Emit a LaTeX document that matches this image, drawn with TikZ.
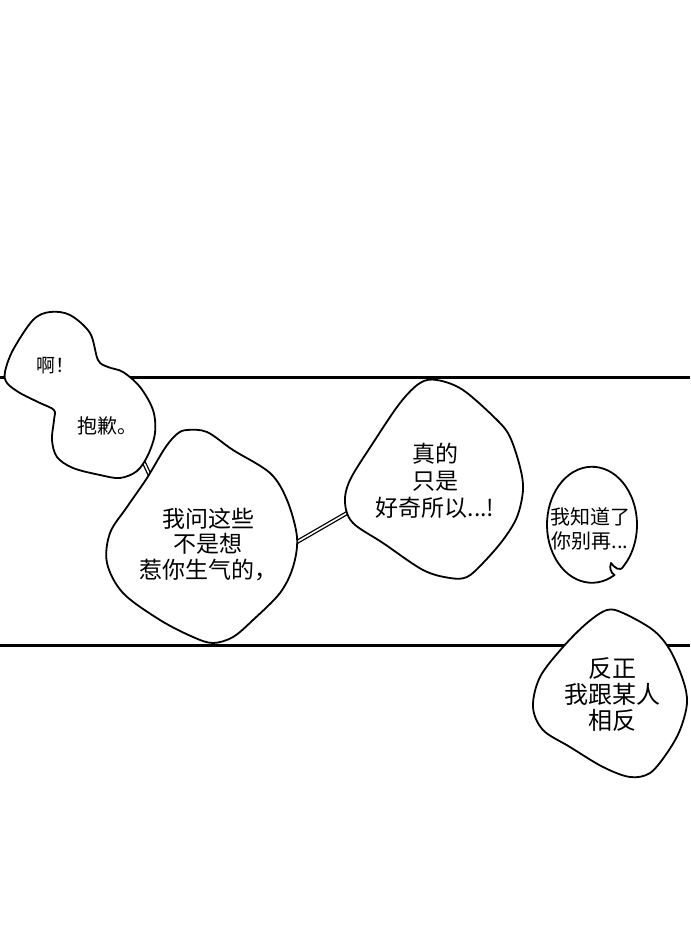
\documentclass[tikz,border=0pt]{standalone}
\usepackage{fontspec}
\setmainfont{Noto Sans CJK SC}
\tikzset{
  bubble/.style={draw=black, fill=white, line width=1.8pt, line join=round},
  panelline/.style={draw=black, line width=3pt},
  link/.style={draw=black, line width=1.3pt, double=white, double distance=1.6pt},
  txt/.style={align=center, inner sep=0pt, text=black}
}
\begin{document}
\begin{tikzpicture}[x=1pt,y=-1pt]
\useasboundingbox (0,0) rectangle (690,936);
\fill[white] (0,0) rectangle (690,936);
% panel borders
\coordinate (pl1a) at (0,377); \coordinate (pl1b) at (690,377);
\coordinate (pl2a) at (0,645); \coordinate (pl2b) at (690,645);
\draw[panelline] (pl1a) -- (pl1b);
\draw[panelline] (pl2a) -- (pl2b);
% connectors
\coordinate (c1a) at (139,452); \coordinate (c1b) at (153,482);
\coordinate (c2a) at (290,546); \coordinate (c2b) at (354,509);
\draw[link] (c1a) -- (c1b);
\draw[link] (c2a) -- (c2b);
% bubble 1+2
\draw[bubble] plot[smooth cycle, tension=0.55] coordinates {
 (5,372) (13,350) (33,320) (50,312) (70,315) (90,333) (98,360) (108,367)
 (123,372) (140,387) (153,410) (155,433) (148,455) (137,471) (120,478)
 (100,475) (73,468) (57,457) (52,440) (54,420) (54,410) (40,403) (20,393) (7,383)};
% bubble 3
\draw[bubble] plot[smooth cycle, tension=0.55] coordinates {
 (187,430) (207,432) (233,450) (270,473) (287,500) (297,537) (293,567)
 (280,593) (253,620) (233,637) (213,643) (193,637) (160,620) (123,593)
 (107,563) (110,533) (127,507) (147,478) (165,448) (177,434)};
% bubble 4
\draw[bubble] plot[smooth cycle, tension=0.55] coordinates {
 (437,380) (463,390) (497,420) (510,437) (520,467) (523,490) (517,517)
 (503,540) (483,563) (467,577) (450,578) (423,570) (383,543) (353,523)
 (345,503) (350,480) (373,443) (400,403) (420,383)};
% bubble 5
\draw[bubble] (614.5,575) arc[start angle=60, end angle=405, x radius=45, y radius=58]
  .. controls (620,573) and (614,567) .. (611,563)
  .. controls (609,568) and (611,573) .. (614.5,575) -- cycle;
% bubble 6
\draw[bubble] plot[smooth cycle, tension=0.55] coordinates {
 (607,610) (623,613) (653,630) (670,650) (683,680) (687,703) (680,730)
 (667,753) (650,773) (630,777) (603,767) (570,747) (543,730) (533,707)
 (540,677) (563,647) (587,623)};
% texts
\node[txt, font=\fontsize{19}{22}\selectfont] (t1) at (55,366) {啊！};
\node[txt, font=\fontsize{20}{23}\selectfont] (t2) at (107,426) {抱歉。};
\node[txt, font=\fontsize{23}{25.5}\selectfont] (t3) at (208,544) {我问这些\\不是想\\惹你生气的，};
\node[txt, font=\fontsize{23}{27}\selectfont] (t4) at (435,481) {真的\\只是\\好奇所以...!};
\node[txt, font=\fontsize{20}{24}\selectfont] (t5) at (590,529) {我知道了\\你别再...};
\node[txt, font=\fontsize{24}{26}\selectfont] (t6) at (612,695) {反正\\我跟某人\\相反};
\end{tikzpicture}
\end{document}
